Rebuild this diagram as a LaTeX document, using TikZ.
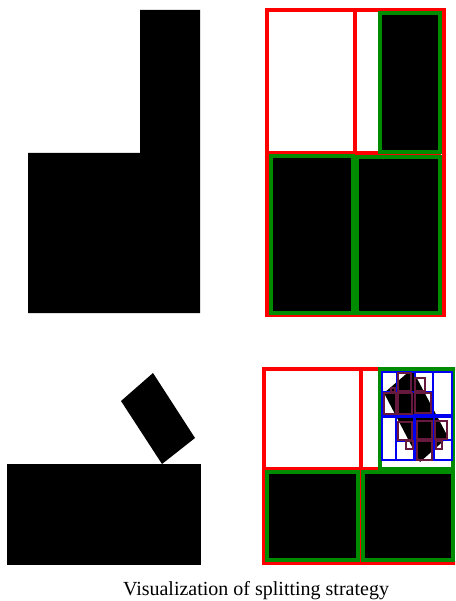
\documentclass[tikz,border=0pt]{standalone}
\usepackage{fontspec}
\setmainfont{Liberation Serif}
\usepackage{xcolor}
\definecolor{splitred}{HTML}{FF0000}
\definecolor{splitgreen}{HTML}{008C00}
\definecolor{splitblue}{HTML}{0000F0}
\definecolor{splitpurple}{HTML}{66183F}

\begin{document}
\begin{tikzpicture}[x=1pt,y=-1pt,
  redline/.style={draw=splitred,line width=4pt},
  greenline/.style={draw=splitgreen,line width=3.5pt},
  blueline/.style={draw=splitblue,line width=1.8pt},
  purpleline/.style={draw=splitpurple,line width=2pt}]
  \clip (0,0) rectangle (455,601);

  % Top left: the L-shaped input
  \fill (140,10) -- (200,10) -- (200,313) -- (28,313) -- (28,153) -- (140,153) -- cycle;

  % Top right: first split
  \foreach \xa/\ya/\xb/\yb in {380/13/440/152, 271/156/353/313, 357/157/440/313} {
    \fill (\xa,\ya) rectangle (\xb,\yb);
  }
  \draw[redline] (267,10) rectangle (444,315) (355,10) -- (355,315) (267,153) -- (441,153);
  \foreach \xa/\ya/\xb/\yb in {380/13/440/152, 271/156/353/313, 357/157/440/313} {
    \draw[greenline] (\xa,\ya) rectangle (\xb,\yb);
  }

  % Bottom left: tilted block on a slab
  \fill (121,401) -- (153,373) -- (195,438) -- (162,464) -- cycle;
  \fill (7,464) rectangle (201,565);

  % Bottom right: split down to small cells
  \fill (267,472) rectangle (358,560);
  \fill (363,472) rectangle (453,560);
  \begin{scope}
    \clip (381,370) rectangle (453,467);
    \fill (384,393) -- (412,369) -- (448,437) -- (420,462) -- cycle;
  \end{scope}
  \draw[redline] (264,369) rectangle (460,563) (361,369) -- (361,563) (264,469) -- (380,469);
  \foreach \xa/\ya/\xb/\yb in {380/369/453/469, 267/472/358/560, 363/472/453/560} {
    \draw[greenline] (\xa,\ya) rectangle (\xb,\yb);
  }
  \foreach \xa/\ya/\xb/\yb in {
    382/372/397/392, 397/372/415/392, 382/392/397/415, 397/392/415/415,
    415/372/433/392, 415/392/433/415, 433/372/452/415,
    382/417/396/460, 396/417/414/441, 396/441/414/460,
    415/417/434/440, 434/417/452/440, 415/440/434/460, 434/440/452/460%
  } {
    \draw[blueline] (\xa,\ya) rectangle (\xb,\yb);
  }
  \foreach \xa/\ya/\xb/\yb in {
    391/388/395/392, 398/373/411/391, 384/393/396/414, 398/393/412/414,
    415/378/425/391, 415/393/431/413,
    398/422/412/440, 406/441/413/449,
    417/421/432/439, 435/421/447/439, 417/441/432/460, 436/441/442/449%
  } {
    \draw[purpleline] (\xa,\ya) rectangle (\xb,\yb);
  }

  \node[font=\fontsize{20}{22}\selectfont,anchor=base] (caption) at (256,595) {Visualization of splitting strategy};
\end{tikzpicture}
\end{document}
